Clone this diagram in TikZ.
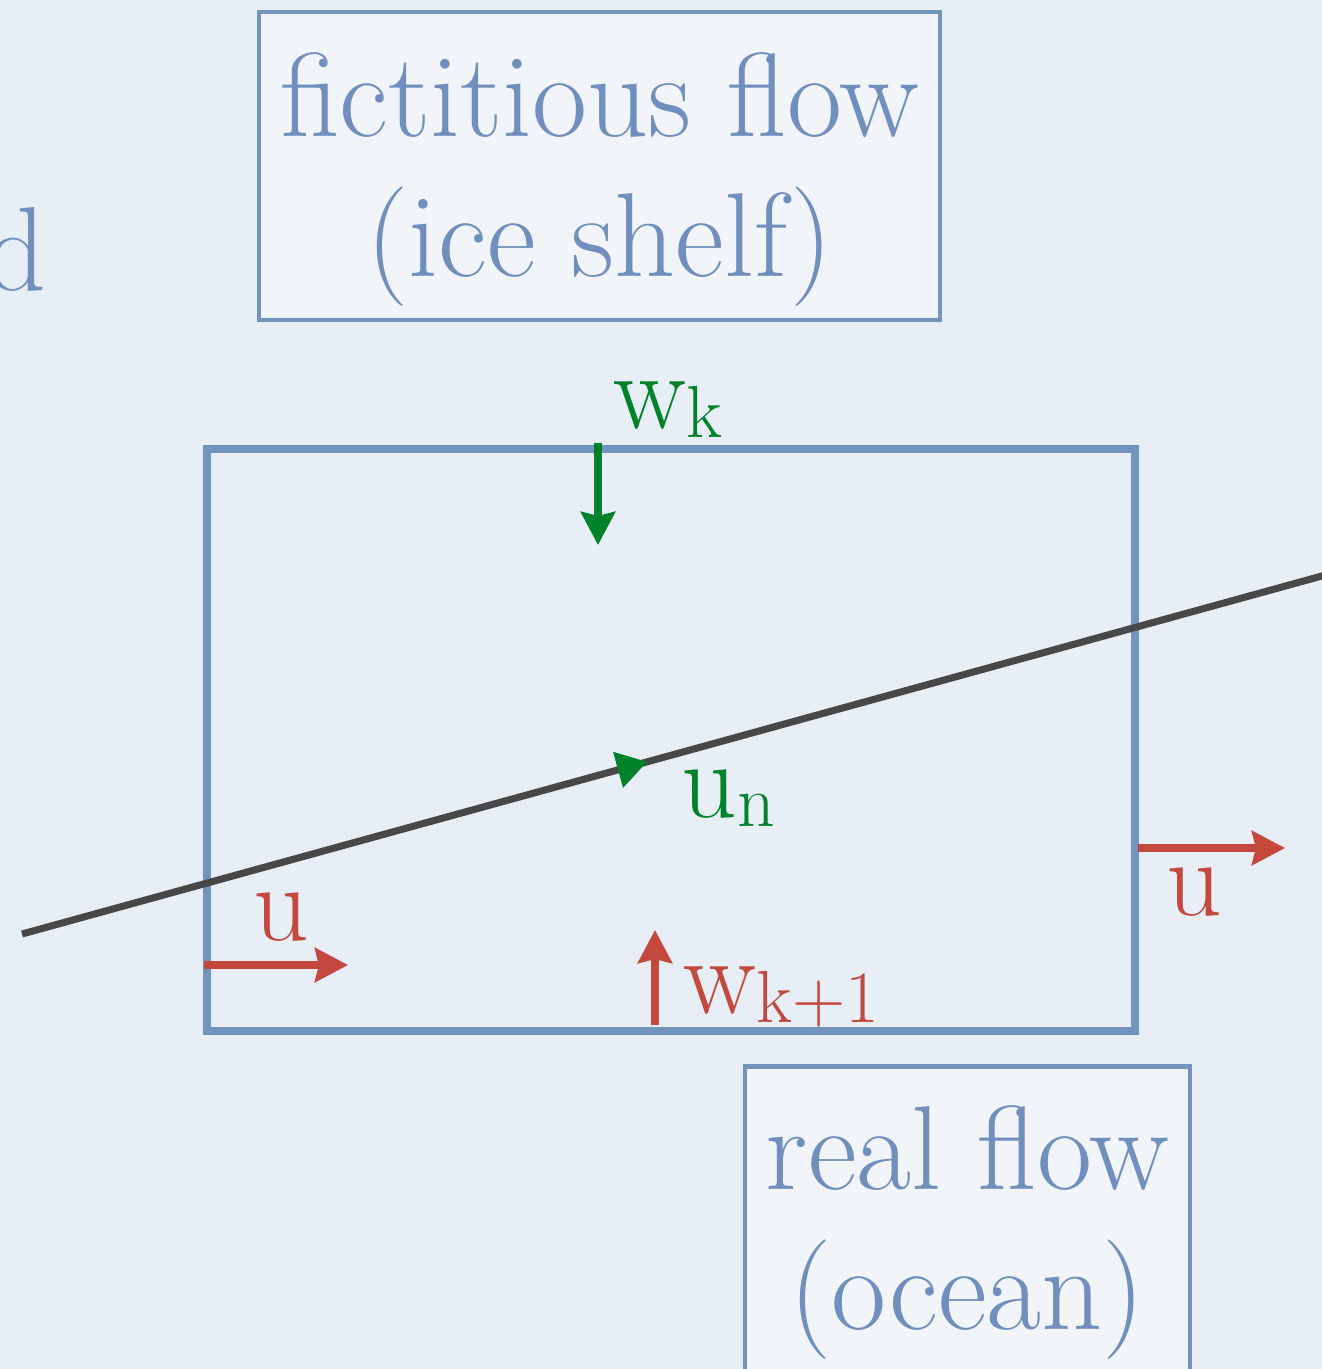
\documentclass[tikz,border=0pt]{standalone}
\usepackage{xcolor}
\usepackage{tikz}
\usetikzlibrary{arrows.meta, positioning, calc}
\definecolor{paperblue}{RGB}{232,238,246}
\definecolor{boxfill}{RGB}{241,245,250}
\definecolor{frameblue}{RGB}{114,146,192}
\definecolor{textblue}{RGB}{112,143,190}
\definecolor{flowgreen}{RGB}{0,130,42}
\definecolor{flowred}{RGB}{196,72,62}
\definecolor{linegray}{RGB}{72,72,72}
\newcommand{\boxfont}{\fontsize{34}{39.8}\selectfont}
\newcommand{\labelfont}{\fontsize{31}{35}\selectfont}
\newcommand{\subfont}{\fontsize{21}{24}\selectfont}
\newcommand{\flowsym}[2]{#1\raisebox{-2.6pt}{\subfont #2}}

\begin{document}
\begin{tikzpicture}[
    x=0.01cm, y=-0.01cm,
    textbox/.style={rectangle, draw=frameblue, fill=boxfill, line width=1.3pt, inner sep=0pt},
    boxtext/.style={font=\boxfont, text=textblue, align=center, inner sep=0pt},
    celledge/.style={rectangle, draw=frameblue, line width=2.3pt, inner sep=0pt},
    shelfline/.style={draw=linegray, line width=2pt},
    flowarrow/.style={-{Stealth[length=0.33cm, width=0.34cm, inset=0.04cm]}, line width=2pt},
    flowlabel/.style={anchor=base west, inner sep=0pt, font=\labelfont}
]
    % Page
    \clip (0,0) rectangle (1322,1369);
    \fill[paperblue] (0,0) rectangle (1322,1369);

    % Cut-off word on the left
    \node[anchor=base east, inner sep=0pt, font=\boxfont, text=textblue] (leftword) at (47,290) {d};

    % Label boxes
    \node[textbox, minimum width=6.81cm, minimum height=3.08cm] (shelfbox) at (599.5,166) {};
    \node[boxtext] (shelftext) at (599.5,179) {fictitious flow\\(ice shelf)};
    \node[textbox, anchor=north, minimum width=4.45cm, minimum height=3.28cm] (oceanbox) at (967.5,1064) {};
    \node[boxtext] (oceantext) at (967.5,1232) {real flow\\(ocean)};

    % Grid cell and ice-shelf base
    \node[celledge, minimum width=9.28cm, minimum height=5.82cm] (cell) at (671,740) {};
    \coordinate (shelfL) at (22,934);
    \coordinate (shelfR) at (1340,571);
    \draw[shelfline] (shelfL) -- (shelfR);

    % Velocities
    \coordinate (wkTop) at (598,443);
    \coordinate (wkTip) at (598,545);
    \draw[flowarrow, flowgreen] (wkTop) -- (wkTip);
    \node[flowlabel, text=flowgreen] (wk) at (613,428) {\flowsym{w}{k}};

    \coordinate (unBack) at ($(shelfL)!0.470!(shelfR)$);
    \coordinate (unTip) at ($(shelfL)!0.4742!(shelfR)$);
    \draw[-{Triangle[length=0.3cm, width=0.37cm]}, flowgreen, line width=0.5pt] (unBack) -- (unTip);
    \node[flowlabel, text=flowgreen] (un) at (681,817) {\flowsym{u}{n}};

    \coordinate (uLeftA) at (204,965);
    \coordinate (uLeftB) at (348,965);
    \draw[flowarrow, flowred] (uLeftA) -- (uLeftB);
    \node[flowlabel, text=flowred] (uleft) at (253,940) {u};

    \coordinate (uRightA) at (1138,848);
    \coordinate (uRightB) at (1285,848);
    \draw[flowarrow, flowred] (uRightA) -- (uRightB);
    \node[flowlabel, text=flowred] (uright) at (1166,915) {u};

    \coordinate (wkoneBot) at (655,1025);
    \coordinate (wkoneTip) at (655,930);
    \draw[flowarrow, flowred] (wkoneBot) -- (wkoneTip);
    \node[flowlabel, text=flowred] (wkone) at (683,1013) {\flowsym{w}{k+1}};
\end{tikzpicture}
\end{document}
